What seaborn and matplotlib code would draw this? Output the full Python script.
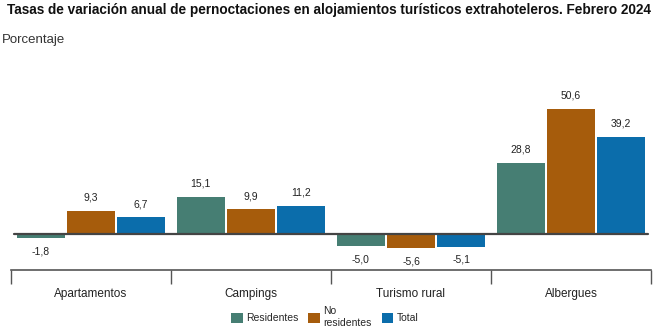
import matplotlib
matplotlib.use("Agg")
import matplotlib.pyplot as plt
import seaborn as sns
import pandas as pd

categories = ["Apartamentos", "Campings", "Turismo rural", "Albergues"]
series = ["Residentes", "No\nresidentes", "Total"]
residentes = [-1.8, 15.1, -5.0, 28.8]
no_residentes = [9.3, 9.9, -5.6, 50.6]
total = [6.7, 11.2, -5.1, 39.2]
colors = ["#467e73", "#a65c0c", "#0b6dab"]

rows = []
for s, vals in zip(series, [residentes, no_residentes, total]):
    for c, v in zip(categories, vals):
        rows.append({"cat": c, "serie": s, "val": v})
df = pd.DataFrame(rows)

sns.set_style("white")
plt.rcParams["font.family"] = ["Liberation Sans", "DejaVu Sans"]

fig = plt.figure(figsize=(6.62, 3.33), dpi=100)
ax = fig.add_axes([11 / 662, 1 - 270 / 333, 640 / 662, 210 / 333])

sns.barplot(data=df, x="cat", y="val", hue="serie", palette=colors,
            width=0.94, gap=0.05, ax=ax, legend=True, saturation=1,
            edgecolor="none")

ax.set_xlim(-0.5, 3.5)
ax.set_ylim(-14.6, 70.4)
ax.axhline(0, color="#444444", lw=1.6, xmin=0.005, xmax=0.995, zorder=3)

for cont in ax.containers:
    for bar in cont:
        h = bar.get_height()
        x = bar.get_x() + bar.get_width() / 2
        lab = f"{h:.1f}".replace(".", ",")
        if h >= 0:
            ax.annotate(lab, (x, h), xytext=(0, 6), textcoords="offset points",
                        ha="center", va="bottom", fontsize=7.5, color="#222222")
        else:
            ax.annotate(lab, (x, h), xytext=(0, -6), textcoords="offset points",
                        ha="center", va="top", fontsize=7.5, color="#222222")

for sp in ["top", "left", "right"]:
    ax.spines[sp].set_visible(False)
ax.spines["bottom"].set_color("#555555")
ax.spines["bottom"].set_linewidth(1.2)
ax.set_yticks([])
ax.set_xlabel("")
ax.set_ylabel("")
ax.set_xticks(range(len(categories)))
ax.set_xticklabels(categories, fontsize=8.5, color="#222222")
ax.tick_params(axis="x", which="major", length=0, pad=13)
ax.set_xticks([-0.5, 0.5, 1.5, 2.5, 3.5], minor=True)
ax.tick_params(axis="x", which="minor", bottom=True, length=10, width=1,
               color="#555555", direction="out")

leg = ax.legend(loc="center", bbox_to_anchor=(0.49, -0.225), ncol=3,
                frameon=False, fontsize=7.5, handlelength=1.1, handleheight=1.1,
                columnspacing=1.0, handletextpad=0.3)

fig.text(7 / 662, 1 - 10 / 333, "Tasas de variación anual de pernoctaciones en alojamientos turísticos extrahoteleros. Febrero 2024",
         fontsize=9.8, fontweight="bold", va="center", ha="left", color="#111111")
fig.text(2 / 662, 1 - 40 / 333, "Porcentaje", fontsize=9.5, va="center", ha="left",
         color="#333333")

fig.savefig("out.png", dpi=100)
